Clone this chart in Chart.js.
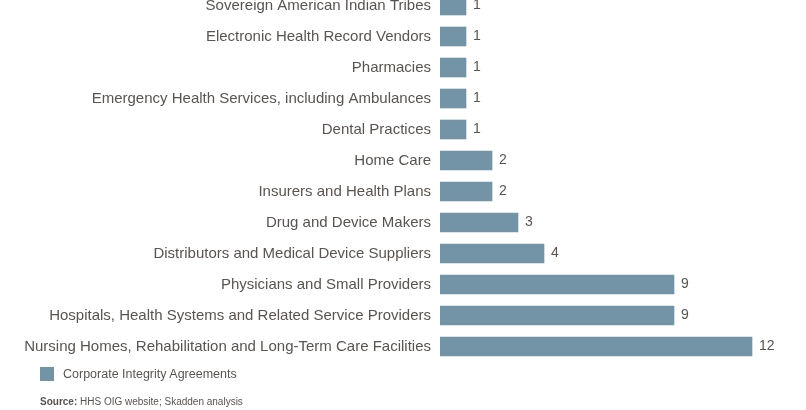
<!DOCTYPE html>
<html>
<head>
<meta charset="utf-8">
<script src="https://cdn.jsdelivr.net/npm/chart.js@4"></script>
<style>
  body { margin: 0; background: #fff; font-family: "Liberation Sans", Arial, sans-serif; color: #5a544f; overflow: hidden; }
  #wrap { position: relative; width: 806px; height: 392px; margin-top: -20px; }
  #legend { position: absolute; left: 40px; top: 367px; font-size: 12.5px; display: flex; align-items: center; }
  #legend span.box { width: 14px; height: 14px; background: #7393a7; display: inline-block; margin-right: 9px; }
  #source { position: absolute; left: 40px; top: 396px; font-size: 10px; }
</style>
</head>
<body>
<div id="wrap"><canvas id="grafica"></canvas></div>
<div id="legend"><span class="box"></span>Corporate Integrity Agreements</div>
<div id="source"><b>Source:</b> HHS OIG website; Skadden analysis</div>
<script>
// Datos
var categorias = [
  'Sovereign American Indian Tribes',
  'Electronic Health Record Vendors',
  'Pharmacies',
  'Emergency Health Services, including Ambulances',
  'Dental Practices',
  'Home Care',
  'Insurers and Health Plans',
  'Drug and Device Makers',
  'Distributors and Medical Device Suppliers',
  'Physicians and Small Providers',
  'Hospitals, Health Systems and Related Service Providers',
  'Nursing Homes, Rehabilitation and Long-Term Care Facilities'
];
var acuerdos = [1, 1, 1, 1, 1, 2, 2, 3, 4, 9, 9, 12];

// etiquetas de valor al final de cada barra
var etiquetasValor = {
  id: 'etiquetasValor',
  afterDatasetsDraw: function (chart) {
    var ctx = chart.ctx;
    ctx.save();
    ctx.font = '14px "Liberation Sans", Arial, sans-serif';
    ctx.fillStyle = '#5a544f';
    ctx.textBaseline = 'middle';
    chart.getDatasetMeta(0).data.forEach(function (bar, i) {
      ctx.fillText(acuerdos[i], bar.x + 7, bar.y);
    });
    ctx.restore();
  }
};

var ctx = document.getElementById('grafica').getContext('2d');
new Chart(ctx, {
  type: 'bar',
  data: {
    labels: categorias,
    datasets: [{
      label: 'Corporate Integrity Agreements',
      data: acuerdos,
      backgroundColor: '#7393a7',
      barThickness: 19
    }]
  },
  options: {
    indexAxis: 'y',
    animation: false,
    responsive: true,
    maintainAspectRatio: false,
    layout: { padding: { left: 0, right: 2, top: 0, bottom: 0 } },
    scales: {
      x: { display: false, min: 0, max: 14 },
      y: {
        grid: { display: false },
        border: { display: false },
        afterFit: function (scale) { scale.width = 440; },
        ticks: {
          padding: 1,
          color: '#5a544f',
          font: { size: 15, family: '"Liberation Sans", Arial, sans-serif' }
        }
      }
    },
    plugins: { legend: { display: false }, tooltip: { enabled: false } }
  },
  plugins: [etiquetasValor]
});
</script>
</body>
</html>
